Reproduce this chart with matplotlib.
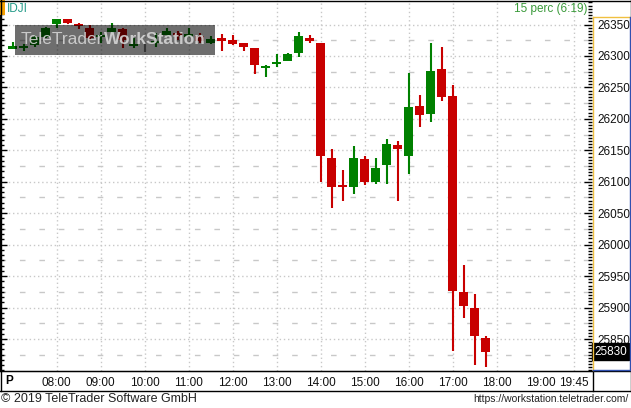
import matplotlib
matplotlib.use('Agg')
import matplotlib.pyplot as plt
import matplotlib.transforms as mtransforms
from matplotlib.patches import Rectangle
from matplotlib.lines import Line2D
from matplotlib.ticker import FixedLocator, MultipleLocator
from matplotlib import font_manager

# 15 minute candles, first one at 07:00
start_time = '07:00'
opens = [26312, 26313, 26317, 26330, 26351, 26359, 26350, 26345, 26330, 26338, 26343,
         26316, 26315, 26321, 26334, 26336, 26332, 26331, 26320, 26328, 26325, 26321,
         26313, 26282, 26287, 26292, 26305, 26328, 26321, 26138, 26095, 26092, 26136,
         26099, 26127, 26158, 26141, 26220, 26208, 26279, 26236, 25924, 25899, 25852]
closes = [26315, 26315, 26330, 26344, 26358, 26353, 26349, 26328, 26334, 26344, 26326,
          26318, 26315, 26323, 26339, 26331, 26333, 26323, 26327, 26324, 26319, 26315,
          26285, 26284, 26291, 26303, 26331, 26323, 26141, 26091, 26091, 26138, 26100,
          26122, 26160, 26152, 26219, 26206, 26276, 26234, 25927, 25903, 25854, 25830]
highs = [26322, 26319, 26333, 26346, 26359, 26359, 26352, 26349, 26338, 26353, 26344,
         26328, 26321, 26336, 26345, 26340, 26344, 26337, 26331, 26335, 26333, 26321,
         26313, 26285, 26303, 26305, 26338, 26333, 26321, 26152, 26119, 26157, 26141,
         26138, 26168, 26165, 26273, 26238, 26321, 26315, 26254, 25968, 25922, 25854]
lows = [26311, 26308, 26314, 26328, 26344, 26351, 26343, 26326, 26321, 26336, 26313,
        26313, 26306, 26314, 26331, 26326, 26330, 26321, 26319, 26308, 26317, 26308,
        26271, 26267, 26283, 26292, 26298, 26321, 26100, 26059, 26070, 26081, 26095,
        26096, 26096, 26070, 26112, 26187, 26195, 26229, 25831, 25884, 25808, 25806]

time_labels = ['08:00', '09:00', '10:00', '11:00', '12:00', '13:00', '14:00',
               '15:00', '16:00', '17:00', '18:00', '19:00', '19:45']
grid_times = ['08:00', '09:00', '10:00', '11:00', '12:00', '13:00', '14:00',
              '15:00', '16:00', '17:00', '18:00', '19:45']
price_ticks = [25850, 25900, 25950, 26000, 26050, 26100, 26150, 26200, 26250, 26300, 26350]
last_price = closes[-1]

W, H = 631, 408


def fx(x):
    return x / W


def fy(y):
    return 1 - y / H


def slot(t):
    hh, mm = t.split(':')
    h0, m0 = start_time.split(':')
    return ((int(hh) * 60 + int(mm)) - (int(h0) * 60 + int(m0))) / 15


def pick(names):
    for n in names:
        try:
            font_manager.findfont(n, fallback_to_default=False)
            return n
        except ValueError:
            pass
    return 'DejaVu Sans'


narrow = pick(['Liberation Sans Narrow', 'Liberation Sans'])
sans = pick(['Liberation Sans', 'DejaVu Sans'])

fig = plt.figure(figsize=(W / 100, H / 100), dpi=100)
fig.patch.set_facecolor('white')

# price panel: x 0..592 px, y 0..371 px
ax = fig.add_axes([0, fy(371), fx(592), 371 / H])
ax.set_facecolor('white')
ax.set_xlim((0 - 12.5) / 11, (592 - 12.5) / 11)
ax.set_ylim(26350 - (371 - 24.5) / 0.629, 26350 + 24.5 / 0.629)

# grid
for t in grid_times:
    ax.axvline(slot(t), color='#c8c8c8', lw=1, ls=(0, (1, 2)), zorder=0)
for p in price_ticks:
    ax.axhline(p, color='#c8c8c8', lw=1, ls=(0, (1, 2)), zorder=0)
for p in price_ticks:
    ax.axhline(p - 25, color='#c8c8c8', lw=1, ls=(0, (4, 10)), zorder=0)

# candles
up, down, flat = '#008000', '#c80000', '#808080'
minh = 3.5
for i in range(len(opens)):
    o, c, hi, lo = opens[i], closes[i], highs[i], lows[i]
    col = up if c > o else (down if c < o else flat)
    ax.vlines(i, lo, hi, color=col, lw=1.5, zorder=2)
    if o == c:
        continue
    bot, top = min(o, c), max(o, c)
    if top - bot < minh:
        mid = (top + bot) / 2
        bot, top = mid - minh / 2, mid + minh / 2
    ax.bar(i, top - bot, bottom=bot, width=0.82, color=col, lw=0, zorder=3)

# axes styling
for s in ['top', 'right']:
    ax.spines[s].set_visible(False)
ax.spines['left'].set_color('black')
ax.spines['bottom'].set_color('black')

ax.set_xticks([slot(t) for t in time_labels])
ax.set_xticklabels(time_labels, fontsize=8.5, family=narrow, color='#111111')
ax.tick_params(axis='x', length=0, pad=4)

ax.yaxis.set_ticks_position('right')
ax.yaxis.set_major_locator(FixedLocator(price_ticks))
ax.yaxis.set_minor_locator(MultipleLocator(5))
ax.set_yticklabels([str(p) for p in price_ticks], fontsize=8.5, family=narrow, color='#111111')
ax.tick_params(axis='y', which='major', direction='in', length=6, width=1, pad=4, color='black')
ax.tick_params(axis='y', which='minor', direction='in', length=3, width=1, color='black')

# left side ticks
axl = fig.add_axes(ax.get_position(), frameon=False)
axl.set_ylim(ax.get_ylim())
axl.set_xlim(0, 1)
axl.patch.set_alpha(0)
axl.set_xticks([])
axl.yaxis.set_major_locator(FixedLocator(price_ticks))
axl.yaxis.set_minor_locator(MultipleLocator(50 / 6))
axl.tick_params(axis='y', which='major', direction='in', length=5, width=1, labelleft=False)
axl.tick_params(axis='y', which='minor', direction='in', length=3, width=1)

# last price flag
tr = mtransforms.blended_transform_factory(ax.transAxes, ax.transData)
ax.text(1.004, last_price, str(last_price), transform=tr, ha='left', va='center',
        fontsize=8.5, family=narrow, color='white', zorder=10, clip_on=False,
        bbox=dict(boxstyle='square,pad=0.18', fc='black', ec='black'))


def fline(xs, ys, color='black', lw=1.0):
    fig.add_artist(Line2D([fx(x) for x in xs], [fy(y) for y in ys],
                          transform=fig.transFigure, color=color, lw=lw))


# frame
fline([0, 631], [0.5, 0.5])
fline([0.5, 0.5], [0, 390.5])
fline([630.5, 630.5], [0, 390.5])
fline([0, 631], [371, 371])
fline([0, 631], [390.5, 390.5])
fline([592.5, 592.5], [371, 390.5])
# price axis box
fline([592.5, 592.5], [17, 370], color='#f0c040')
fline([592.5, 630], [17, 17], color='#f0c040')
fline([593, 630], [369.5, 369.5], color='#3050b0')
fline([629.5, 629.5], [17, 370], color='#3050b0')

# header
fig.add_artist(Rectangle((0, fy(15)), fx(5), 15 / H, transform=fig.transFigure,
                         fc='#f5a000', ec='none'))
fig.text(fx(7), fy(9), 'IDJI', fontsize=8.5, family=sans, color='#239a88', va='center', ha='left')
fig.text(fx(588), fy(9), '15 perc (6:19)', fontsize=8.5, family=sans, color='#3a9a3a',
         va='center', ha='right')
fig.text(fx(5), fy(381), 'P', fontsize=8.5, family=sans, weight='bold', va='center', ha='left')

# watermark: box, then two words laid out side by side and fitted to the box
fig.add_artist(Rectangle((fx(15), fy(55)), fx(200), 30 / H, transform=fig.transFigure,
                         fc='black', alpha=0.57, ec='none'))
fs = 14
w1 = fig.text(fx(21), fy(40), 'TeleTrader', fontsize=fs, family=narrow, color='#d4d4d4',
              alpha=0.9, va='center', ha='left')
w2 = fig.text(fx(100), fy(40), 'WorkStation', fontsize=fs, family=narrow, weight='bold',
              color='#d4d4d4', alpha=0.9, va='center', ha='left')
r = fig.canvas.get_renderer()
total = w1.get_window_extent(r).width + w2.get_window_extent(r).width
fs = min(fs * 186 / total, 15)
w1.set_fontsize(fs)
w2.set_fontsize(fs)
e1 = w1.get_window_extent(r)
w2.set_x(fx(e1.x1 + 1))

# footer
fig.text(fx(1), fy(399), '\u00a9 2019 TeleTrader Software GmbH', fontsize=9, family=sans,
         color='#222222', va='center', ha='left')
fig.text(fx(628), fy(399), 'https://workstation.teletrader.com/', fontsize=7.5, family=narrow,
         color='#222222', va='center', ha='right')

fig.savefig('out.png', dpi=100)
